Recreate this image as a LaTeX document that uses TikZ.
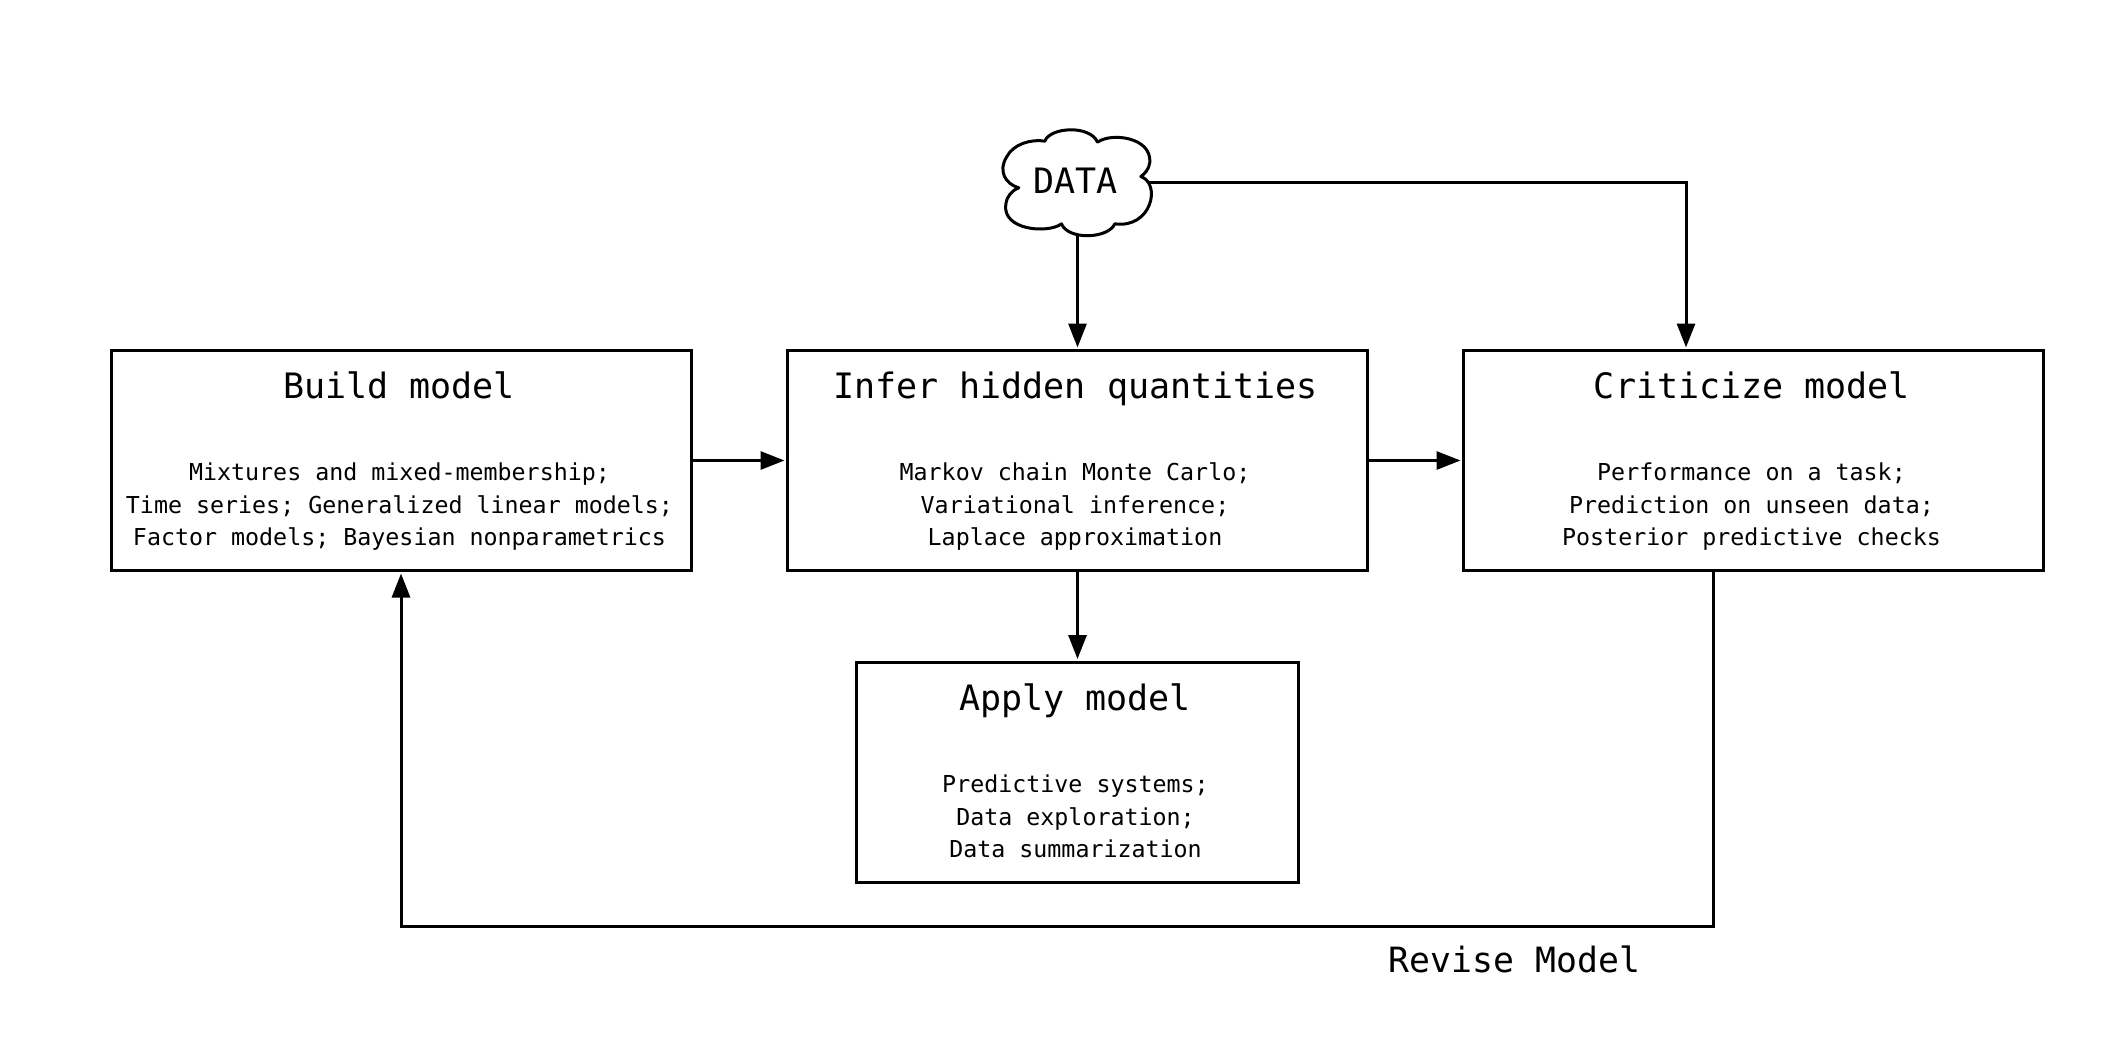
\documentclass[tikz,border=0pt]{standalone}
\usepackage{fontspec}
\setmainfont{DejaVu Sans Mono}
\usetikzlibrary{arrows.meta}
\tikzset{
  every node/.style={outer sep=0pt, inner sep=0pt},
  boxnode/.style={draw=black, line width=3pt, line join=miter, fill=white},
  stagebox/.style={boxnode, minimum width=580pt, minimum height=220pt},
  applybox/.style={boxnode, minimum width=442pt, minimum height=220pt},
  titletext/.style={anchor=base, font=\fontsize{35pt}{36pt}\selectfont},
  bodytext/.style={anchor=base, align=center, font=\fontsize{23.3pt}{32.4pt}\selectfont},
  conn/.style={line width=3pt, draw=black},
  arrowconn/.style={conn, -{Triangle[length=24pt,width=18pt]}, shorten >=3pt},
}
\begin{document}
\begin{tikzpicture}[x=1pt,y=-1pt]
\useasboundingbox (0,0) rectangle (2122,1058);
% boxes
\node[stagebox] (build) at (401,460.5) {};
\node[stagebox] (infer) at (1077.5,460.5) {};
\node[stagebox] (crit) at (1753.5,460.5) {};
\node[applybox] (apply) at (1077.5,772) {};
% box texts
\node[titletext] (tbuild) at (399,398) {Build model};
\node[titletext] (tinfer) at (1075.5,398) {Infer hidden quantities};
\node[titletext] (tcrit) at (1752,398) {Criticize model};
\node[titletext] (tapply) at (1075,710.5) {Apply model};
\node[bodytext] (bbuild) at (399.5,545.5) {Mixtures and mixed-membership;\\Time series; Generalized linear models;\\Factor models; Bayesian nonparametrics};
\node[bodytext] (binfer) at (1075,545.5) {Markov chain Monte Carlo;\\Variational inference;\\Laplace approximation};
\node[bodytext] (bcrit) at (1751.5,545.5) {Performance on a task;\\Prediction on unseen data;\\Posterior predictive checks};
\node[bodytext] (bapply) at (1075.5,857.5) {Predictive systems;\\Data exploration;\\Data summarization};
% cloud
\begin{scope}[shift={(961.5,100.5)},xscale=1/3,yscale=1/3]
\draw[line width=3pt, line join=round, fill=white]
  (250,122) .. controls (265,80) and (385,72) .. (408,125)
  .. controls (450,95) and (570,110) .. (565,185)
  .. controls (563,205) and (550,220) .. (538,228)
  .. controls (600,250) and (570,385) .. (460,370)
  .. controls (440,415) and (320,420) .. (300,370)
  .. controls (260,400) and (120,390) .. (133,310)
  .. controls (135,290) and (150,270) .. (172,262)
  .. controls (130,250) and (110,210) .. (135,170)
  .. controls (155,130) and (210,115) .. (250,122) -- cycle;
\end{scope}
\node[minimum width=143pt, minimum height=106pt] (data) at (1077.5,182) {};
\node[anchor=base, font=\fontsize{35pt}{36pt}\selectfont] (datatext) at (1075.5,193) {DATA};
\node[anchor=base, font=\fontsize{34.8pt}{36pt}\selectfont] (revise) at (1514.5,972) {Revise Model};
% connector corners
\coordinate (crittop) at (1686,182);
\coordinate (revr) at (1713,926.5);
\coordinate (revl) at (401,926.5);
% connectors
\draw[arrowconn] (data.south) -- (infer.north);
\draw[arrowconn] (data.east) -- (crittop) -- (crittop |- crit.north);
\draw[arrowconn] (build.east) -- (infer.west);
\draw[arrowconn] (infer.east) -- (crit.west);
\draw[arrowconn] (infer.south) -- (apply.north);
\draw[arrowconn, line join=miter] (revr |- crit.south) -- (revr) -- (revl) -- (build.south);
\end{tikzpicture}
\end{document}
